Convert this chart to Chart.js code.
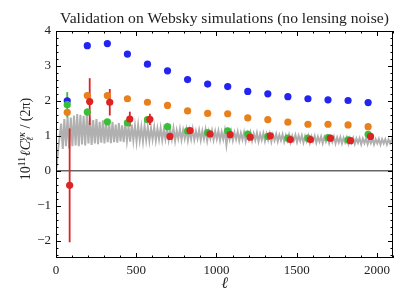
<!DOCTYPE html>
<html>
<head>
<meta charset="utf-8">
<script src="https://cdn.jsdelivr.net/npm/chart.js@4"></script>
<style>
  html, body { margin: 0; padding: 0; background: #fff; }
  #wrap { width: 407px; height: 305px; }
</style>
</head>
<body>
<div id="wrap"><canvas id="cl"></canvas></div>
<script>
const ellBins = [70, 195, 320, 445, 570, 695, 820, 945, 1070, 1195, 1320, 1445, 1570, 1695, 1820, 1945];
const ellRed = [85, 210, 335, 460, 585, 710, 835, 960, 1085, 1210, 1335, 1460, 1585, 1710, 1835, 1960];

const blueVals = [2.00, 3.58, 3.64, 3.34, 3.05, 2.86, 2.61, 2.48, 2.41, 2.27, 2.20, 2.12, 2.06, 2.03, 2.01, 1.95];
const orangeVals = [1.67, 2.15, 2.15, 2.06, 1.96, 1.87, 1.71, 1.64, 1.63, 1.51, 1.46, 1.39, 1.33, 1.33, 1.31, 1.26];
const greenVals = [1.89, 1.68, 1.40, 1.37, 1.46, 1.26, 1.14, 1.09, 1.14, 1.05, 0.98, 0.93, 0.93, 0.95, 0.88, 1.04];
const greenErr = [0.36, 0.10, 0.06, 0.05, 0.04, 0.03, 0.03, 0.03, 0.03, 0.03, 0.03, 0.03, 0.03, 0.03, 0.03, 0.03];
const redVals = [-0.42, 1.98, 1.96, 1.48, 1.47, 0.98, 1.15, 1.05, 1.03, 0.96, 1.00, 0.89, 0.89, 0.93, 0.86, 0.98];
const redErr = [1.63, 0.67, 0.38, 0.21, 0.16, 0.08, 0.06, 0.05, 0.04, 0.04, 0.03, 0.03, 0.03, 0.03, 0.03, 0.03];

// noisy simulated spectrum, sampled every 10 in ell starting at ell = 2
const grayStart = 2;
const grayStep = 10;
const grayVals = [
  0.05, 0.55, 0.95, 1.35, 0.62, 1.48, 0.70, 1.55, 0.64, 1.52,
  0.70, 1.58, 0.72, 1.62, 0.70, 1.60, 0.75, 1.57, 0.72, 1.60,
  0.78, 1.52, 0.74, 1.45, 0.78, 1.48, 0.76, 1.40, 0.80, 1.44,
  0.78, 1.40, 0.82, 1.34, 0.79, 1.40, 0.82, 1.32, 0.80, 1.36,
  0.84, 1.30, 0.82, 1.36, 0.86, 1.26, 0.83, 1.32, 0.87, 1.28,
  0.84, 1.30, 0.88, 1.24, 0.84, 1.28, 0.88, 1.24, 0.86, 1.22,
  0.90, 1.24, 0.87, 1.20, 0.90, 1.22, 0.88, 1.18, 0.91, 1.21,
  0.88, 1.18, 0.91, 1.21, 0.86, 1.15, 0.92, 1.19, 0.89, 1.16,
  0.92, 1.18, 0.87, 1.15, 0.91, 1.19, 0.89, 1.13, 0.92, 1.16,
  0.88, 1.14, 0.91, 1.17, 0.86, 1.12, 0.92, 1.15, 0.89, 1.13,
  0.91, 1.14, 0.87, 1.11, 0.90, 1.15, 0.74, 1.10, 0.90, 1.12,
  0.87, 1.09, 0.90, 1.11, 0.86, 1.08, 0.89, 1.10, 0.85, 1.07,
  0.89, 1.09, 0.86, 1.06, 0.88, 1.08, 0.84, 1.05, 0.88, 1.07,
  0.85, 1.05, 0.88, 1.06, 0.83, 1.03, 0.87, 1.05, 0.84, 1.02,
  0.87, 1.04, 0.83, 1.01, 0.86, 1.03, 0.82, 1.00, 0.86, 1.02,
  0.82, 1.00, 0.85, 1.01, 0.81, 0.99, 0.84, 1.00, 0.80, 0.98,
  0.84, 0.99, 0.80, 0.97, 0.83, 0.98, 0.79, 0.96, 0.83, 0.97,
  0.79, 0.96, 0.82, 0.97, 0.78, 0.95, 0.81, 0.96, 0.78, 0.94,
  0.81, 0.95, 0.77, 0.93, 0.80, 0.94, 0.77, 0.92, 0.80, 0.93,
  0.76, 0.92, 0.79, 0.93, 0.76, 0.91, 0.79, 0.92, 0.75, 0.90,
  0.78, 0.91, 0.75, 0.90, 0.78, 0.90, 0.75, 0.89, 0.78, 0.89, 0.78
];

const xTicks = [0, 500, 1000, 1500, 2000];
const yTicks = [-2, -1, 0, 1, 2, 3, 4];
const titleText = "Validation on Websky simulations (no lensing noise)";

const SERIF = "'Liberation Serif', 'DejaVu Serif', serif";

const pts = (xs, ys) => ys.map((v, i) => ({ x: xs[i], y: v }));
const grayPts = grayVals.map((v, i) => ({ x: grayStart + i * grayStep, y: v }));

function dotSet(label, xs, ys, color, order) {
  return {
    label: label,
    type: "scatter",
    data: pts(xs, ys),
    backgroundColor: color,
    borderWidth: 0,
    pointRadius: 3.6,
    order: order,
  };
}

const datasets = [
  {
    label: "sims",
    type: "line",
    data: grayPts,
    borderColor: "#b0b0b0",
    borderWidth: 2,
    pointRadius: 0,
    tension: 0,
    order: 10,
  },
  dotSet("blue", ellBins, blueVals, "#2424f0", 4),
  dotSet("orange", ellBins, orangeVals, "#e8801c", 3),
  dotSet("green", ellBins, greenVals, "#38bf38", 2),
  dotSet("red", ellRed, redVals, "#dc2424", 1),
];

// title, zero line, error bars, axis frame with inside ticks, axis labels
const decor = {
  id: "decor",
  beforeDatasetsDraw(chart) {
    const { ctx, chartArea: a, scales: { y } } = chart;
    const y0 = y.getPixelForValue(0);
    ctx.save();
    ctx.strokeStyle = "#666666";
    ctx.lineWidth = 1.6;
    ctx.beginPath();
    ctx.moveTo(a.left, y0);
    ctx.lineTo(a.right, y0);
    ctx.stroke();
    ctx.restore();
  },
  afterDatasetDraw(chart, args) {
    if (args.index !== 0) return;
    const { ctx, chartArea: a, scales: { x, y } } = chart;
    ctx.save();
    ctx.beginPath();
    ctx.rect(a.left, a.top, a.right - a.left, a.bottom - a.top);
    ctx.clip();
    const bars = (xs, vals, errs, color) => {
      ctx.strokeStyle = color;
      ctx.lineWidth = 1.8;
      vals.forEach((v, i) => {
        const px = x.getPixelForValue(xs[i]);
        ctx.beginPath();
        ctx.moveTo(px, y.getPixelForValue(v - errs[i]));
        ctx.lineTo(px, y.getPixelForValue(v + errs[i]));
        ctx.stroke();
      });
    };
    bars(ellBins, greenVals, greenErr, "#38bf38");
    bars(ellRed, redVals, redErr, "#dc2424");
    ctx.restore();
  },
  afterDraw(chart) {
    const { ctx, chartArea: a, scales: { x, y } } = chart;
    ctx.save();
    ctx.strokeStyle = "#000";
    ctx.lineWidth = 1;
    ctx.strokeRect(a.left + 0.5, a.top + 0.5, a.right - a.left - 1, a.bottom - a.top - 1);

    ctx.beginPath();
    for (let v = 0; v <= 2100; v += 100) {
      const px = Math.round(x.getPixelForValue(v)) + 0.5;
      const len = v % 500 === 0 ? 5 : 2.5;
      ctx.moveTo(px, a.bottom);
      ctx.lineTo(px, a.bottom - len);
      ctx.moveTo(px, a.top);
      ctx.lineTo(px, a.top + len);
    }
    for (let k = -12; k <= 20; k++) {
      const v = k * 0.2;
      const py = Math.round(y.getPixelForValue(v)) + 0.5;
      const len = k % 5 === 0 ? 5 : 2.5;
      ctx.moveTo(a.left, py);
      ctx.lineTo(a.left + len, py);
      ctx.moveTo(a.right, py);
      ctx.lineTo(a.right - len, py);
    }
    ctx.stroke();

    ctx.fillStyle = "#222";
    ctx.textAlign = "center";
    ctx.textBaseline = "alphabetic";
    ctx.font = "15.6px " + SERIF;
    ctx.fillText(titleText, (a.left + a.right) / 2, 23);

    // x label
    ctx.font = "italic 16px " + SERIF;
    ctx.textBaseline = "middle";
    ctx.fillText("ℓ", (a.left + a.right) / 2, 284);

    // y label, built from pieces with super/subscripts
    const big = "14px " + SERIF;
    const bigI = "italic 14px " + SERIF;
    const small = "9.5px " + SERIF;
    const smallI = "italic 9.5px " + SERIF;
    const parts = [
      { t: "10", f: big, dy: 0 },
      { t: "11", f: small, dy: -5.5 },
      { t: "ℓC", f: bigI, dy: 0, pad: 1 },
      { t: "yκ", f: smallI, dy: -5.5, sub: "ℓ" },
      { t: " / (2π)", f: big, dy: 0 },
    ];
    let total = 0;
    parts.forEach((p) => {
      ctx.font = p.f;
      p.w = ctx.measureText(p.t).width + (p.pad || 0);
      total += p.w;
    });
    ctx.translate(25, 139);
    ctx.rotate(-Math.PI / 2);
    ctx.textAlign = "left";
    ctx.textBaseline = "alphabetic";
    let cx = -total / 2;
    const base = 5;
    parts.forEach((p) => {
      ctx.font = p.f;
      ctx.fillText(p.t, cx + (p.pad || 0), base + p.dy);
      if (p.sub) ctx.fillText(p.sub, cx, base + 3);
      cx += p.w;
    });
    ctx.restore();
  },
};

const minus = (s) => String(s).replace("-", "\u2212");

new Chart(document.getElementById("cl"), {
  data: { datasets: datasets },
  options: {
    responsive: true,
    maintainAspectRatio: false,
    animation: false,
    layout: { padding: { left: 0, right: 14, top: 31, bottom: 0 } },
    plugins: {
      legend: { display: false },
      tooltip: { enabled: false },
      title: { display: false },
    },
    scales: {
      x: {
        type: "linear",
        min: 0,
        max: 2100,
        grid: { display: false, drawTicks: false },
        border: { display: false },
        afterBuildTicks: (s) => { s.ticks = xTicks.map((v) => ({ value: v })); },
        ticks: { color: "#222", padding: 5, maxRotation: 0, callback: (v) => String(v), font: { family: SERIF, size: 13 } },
        afterFit: (s) => { s.height = 47; },
      },
      y: {
        type: "linear",
        min: -2.5,
        max: 4,
        grid: { display: false, drawTicks: false },
        border: { display: false },
        afterBuildTicks: (s) => { s.ticks = yTicks.map((v) => ({ value: v })); },
        ticks: { color: "#222", padding: 5, callback: (v) => minus(v), font: { family: SERIF, size: 13 } },
        afterFit: (s) => { s.width = 56; },
      },
    },
  },
  plugins: [decor],
});
</script>
</body>
</html>
